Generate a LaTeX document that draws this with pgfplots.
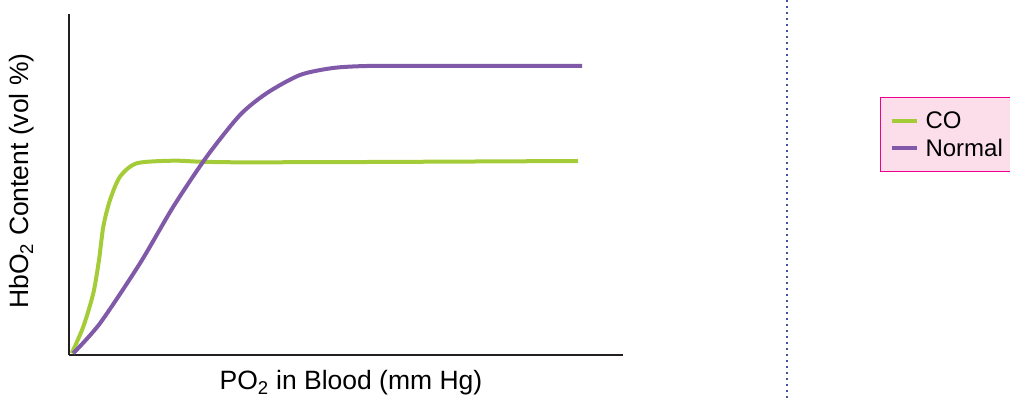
\documentclass[border=0pt]{standalone}
\usepackage{fontspec}
\setmainfont{Liberation Sans}
\usepackage{pgfplots}
\pgfplotsset{compat=1.18}
\definecolor{cogreen}{RGB}{164,204,57}
\definecolor{normpurple}{RGB}{128,90,168}
\definecolor{legfill}{RGB}{252,222,234}
\definecolor{legdraw}{RGB}{236,0,140}
\definecolor{axisdark}{RGB}{35,31,32}
\definecolor{dotblue}{RGB}{70,80,160}
\begin{document}
\begin{tikzpicture}
\useasboundingbox (0,0) rectangle (1010pt,398pt);
\clip (0,0) rectangle (1010pt,398pt);
\begin{axis}[
  at={(69pt,43pt)}, anchor=south west,
  scale only axis,
  width=554pt, height=341pt,
  xmin=0, xmax=554, ymin=0, ymax=341,
  axis x line=bottom, axis y line=left,
  axis line style={-, line width=2.5pt, color=axisdark},
  xtick=\empty, ytick=\empty,
  clip=false,
  legend style={at={(1.4639,0.7566)}, anchor=north west,
    fill=legfill, draw=legdraw, line width=1pt,
    font=\fontsize{24pt}{27pt}\selectfont, inner xsep=9pt, inner ysep=12pt,
    row sep=5pt, nodes={inner xsep=7pt}},
  legend cell align=left,
  legend image code/.code={\draw[#1, line width=4pt] (0pt,0pt) -- (25pt,0pt);},
]
\addplot[cogreen, line width=4pt, smooth, tension=0.45] coordinates {
 (2.7,1.7) (14.3,28.3) (24.3,61.7) (30,95) (34.3,128.3) (41,155) (51,178.3) (67.7,191.7) (104,194.3) (131,193.3) (171,192.7) (300,193) (509,194)};
\addlegendentry{CO}
\addplot[normpurple, line width=4pt, smooth, tension=0.45] coordinates {
 (4.3,1.7) (31,31.7) (71,91.7) (104.3,148.3) (137.7,198.3) (171,240) (198,262) (231,280) (264,287) (298,289) (350,289) (513,289)};
\addlegendentry{Normal}
\end{axis}
\draw[dotblue, line width=1.5pt, dash pattern=on 1.5pt off 4.5pt] (787pt,0pt) -- (787pt,398pt);
\node[font=\fontsize{26.5pt}{29pt}\selectfont] at (351pt,15pt) {PO\textsubscript{2} in Blood (mm Hg)};
\node[font=\fontsize{26.5pt}{29pt}\selectfont, rotate=90] at (22pt,217pt) {HbO\textsubscript{2} Content (vol \%)};
\end{tikzpicture}
\end{document}
